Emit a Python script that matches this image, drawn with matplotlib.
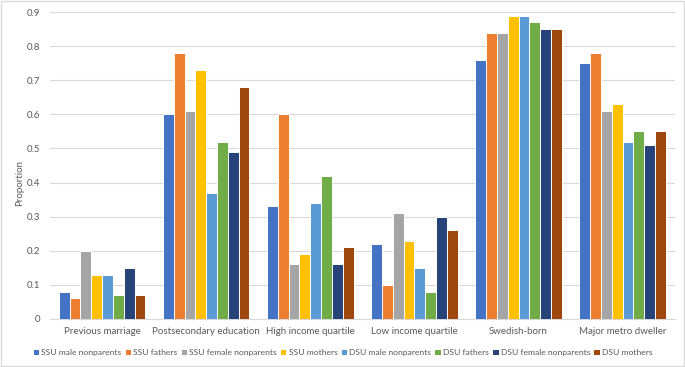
import matplotlib.pyplot as plt
import numpy as np

categories = ['Previous marriage', 'Postsecondary education', 'High income quartile',
              'Low income quartile', 'Swedish-born', 'Major metro dweller']
series_names = ['SSU male nonparents', 'SSU fathers', 'SSU female nonparents', 'SSU mothers',
                'DSU male nonparents', 'DSU fathers', 'DSU female nonparents', 'DSU mothers']
ssu_male_nonparents = [0.08, 0.60, 0.33, 0.22, 0.76, 0.75]
ssu_fathers = [0.06, 0.78, 0.60, 0.10, 0.84, 0.78]
ssu_female_nonparents = [0.20, 0.61, 0.16, 0.31, 0.84, 0.61]
ssu_mothers = [0.13, 0.73, 0.19, 0.23, 0.89, 0.63]
dsu_male_nonparents = [0.13, 0.37, 0.34, 0.15, 0.89, 0.52]
dsu_fathers = [0.07, 0.52, 0.42, 0.08, 0.87, 0.55]
dsu_female_nonparents = [0.15, 0.49, 0.16, 0.30, 0.85, 0.51]
dsu_mothers = [0.07, 0.68, 0.21, 0.26, 0.85, 0.55]

series = [ssu_male_nonparents, ssu_fathers, ssu_female_nonparents, ssu_mothers,
          dsu_male_nonparents, dsu_fathers, dsu_female_nonparents, dsu_mothers]
colors = ['#4472C4', '#ED7D31', '#A5A5A5', '#FFC000', '#5B9BD5', '#70AD47', '#264478', '#9E480E']

plt.rcParams['font.family'] = ['Lato', 'DejaVu Sans']
text_col = '#595959'

fig = plt.figure(figsize=(6.85, 3.67), dpi=100)
ax = fig.add_axes([0.073, 0.131, 0.912, 0.836])

x = np.arange(len(categories))
w = 0.104
for i, (vals, name, c) in enumerate(zip(series, series_names, colors)):
    ax.bar(x + (i - 3.5) * w, vals, width=w, color=c, edgecolor='white', linewidth=0.7,
           label=name, zorder=3)

ax.set_xlim(-0.5, len(categories) - 0.5)
ax.set_ylim(0, 0.9)
ax.set_yticks(np.arange(0, 0.91, 0.1))
ax.set_yticklabels(['0'] + [f'{v:.1f}' for v in np.arange(0.1, 0.91, 0.1)])
ax.set_xticks(x)
ax.set_xticklabels(categories)
ax.tick_params(axis='both', length=0, labelsize=7, colors=text_col, pad=6)
ax.tick_params(axis='y', pad=7)
ax.yaxis.grid(True, color='#D9D9D9', linewidth=0.8, zorder=0)
for s in ['top', 'right', 'left']:
    ax.spines[s].set_visible(False)
ax.spines['bottom'].set_color('#D9D9D9')
fig.text(20 / 685, 0.5, 'Proportion', rotation=90, fontsize=7, color=text_col,
         ha='center', va='center')

fig.legend(loc='center', bbox_to_anchor=(0.5, 0.04), ncol=8, fontsize=6.1, frameon=False,
           handlelength=0.75, handleheight=0.75, handletextpad=0.25, columnspacing=0.4,
           labelcolor=text_col)

fig.patches.append(plt.Rectangle((0.001, 0.002), 0.997, 0.996, transform=fig.transFigure,
                                 fill=False, edgecolor='#D9D9D9', linewidth=1))

fig.savefig('out.png', dpi=100)
